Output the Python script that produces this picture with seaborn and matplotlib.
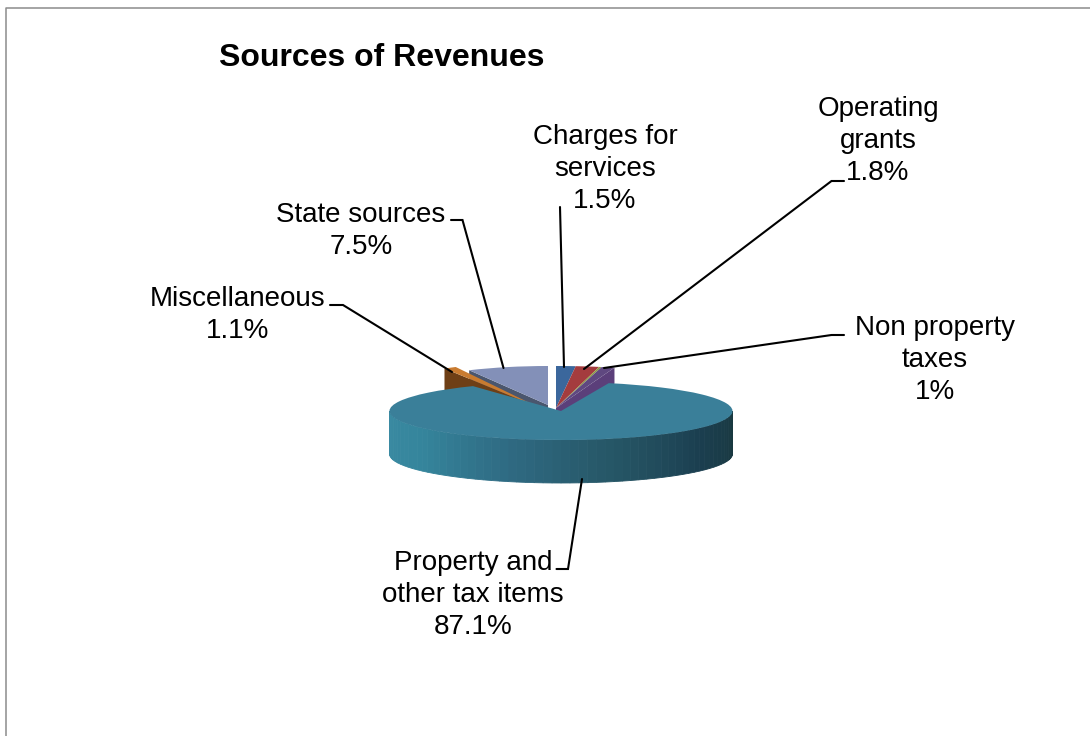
import numpy as np
import matplotlib
matplotlib.use("Agg")
import matplotlib.pyplot as plt
from matplotlib.transforms import Affine2D
import seaborn as sns

title = "Sources of Revenues"
categories = ["Charges for\nservices", "Operating\ngrants", "Other", "Non property\ntaxes",
              "Property and\nother tax items", "Miscellaneous", "State sources"]
values = [1.5, 1.8, 0.2, 1.0, 87.1, 1.1, 7.5]
value_labels = ["1.5%", "1.8%", "", "1%", "87.1%", "1.1%", "7.5%"]
top_colors = ["#3b679c", "#a43c3e", "#8c9e45", "#5f4880", "#3a7f99", "#c97b30", "#8390b8"]
wall_colors = ["#2c4c72", "#752a2b", "#66732f", "#5b3f7a", "#2f6a82", "#6e3f16", "#4a566e"]
wall_ramp = ["#3a8aa2", "#35859c", "#2f6a82", "#265666", "#1b3f50", "#19383f"]

# one pixel-like frame per wedge: centre x, centre y, x radius, y radius, wall depth
frames = [(556, 408, 210, 42, 16), (556, 408, 210, 42, 16), (556, 408, 210, 42, 16),
          (556, 408, 210, 42, 16), (561, 411, 171.5, 29, 43),
          (540, 408, 186, 46, 24), (548, 405, 174, 39, 11)]
label_pos = [(605, 169), (878, 141), None, (935, 360), (473, 595), (238, 315), (361, 231)]
leaders = [[(560, 207), (564, 367)],
           [(844, 181), (831.5, 181), (584, 369)],
           None,
           [(844, 335), (831.5, 335), (604, 368)],
           [(582, 479), (568, 569), (556.5, 569)],
           [(330, 305), (343, 305), (452, 372)],
           [(451, 220), (462.5, 220), (503.5, 368)]]

sns.set_theme(style="white")
plt.rcParams["font.family"] = ["Liberation Sans", "DejaVu Sans"]

fig = plt.figure(figsize=(10.9, 7.36), dpi=100, facecolor="white")
ax = fig.add_axes([0, 0, 1, 1])
wedges, _ = ax.pie(values, startangle=90, counterclock=False, colors=top_colors, radius=1)
ax.set_aspect("auto")
ax.set_xlim(0, 1090)
ax.set_ylim(736, 0)
ax.axis("off")

edges = np.concatenate([[0], np.cumsum(values)]) / np.sum(values) * 2 * np.pi
order = {0: 6, 1: 7, 2: 8, 3: 9, 4: 20, 5: 5, 6: 3}

def pt(frame, a):
    cx, cy, rx, ry, _ = frame
    return cx + rx * np.sin(a), cy - ry * np.cos(a)

for i, w in enumerate(wedges):
    f = frames[i]
    w.set_transform(Affine2D().scale(f[2], -f[3]).translate(f[0], f[1]) + ax.transData)
    w.set_linewidth(0)
    w.set_zorder(order[i] + 0.5)
    if i == 4:
        continue
    # cut face extruded below the wedge top
    side = edges[i + 1] if i == 3 else edges[i]
    if i in (3, 5, 6):
        x0, y0 = pt(f, side)
        ax.fill([f[0], x0, x0, f[0]], [f[1], y0, y0 + f[4], f[1] + f[4]],
                color=wall_colors[i], lw=0, zorder=order[i])

# front rim of the large wedge, shaded across its width
f = frames[4]
lo, hi = max(edges[4], np.pi / 2), min(edges[5], 3 * np.pi / 2)
steps = np.linspace(lo, hi, 61)
ramp = sns.blend_palette(wall_ramp[::-1], n_colors=60)
for k in range(60):
    a = np.linspace(steps[k], steps[k + 1], 5)
    x, y = pt(f, a)
    ax.fill(np.r_[x, x[::-1]], np.r_[y, y[::-1] + f[4]], color=ramp[k], lw=0.6,
            ec=ramp[k], zorder=19)

for cat, val, pos in zip(categories, value_labels, label_pos):
    if pos is not None:
        ax.text(pos[0], pos[1], cat + "\n" + val, ha="center", va="center", fontsize=20,
                color="black", linespacing=1.3, zorder=30)
for line in leaders:
    if line is not None:
        xs, ys = zip(*line)
        ax.plot(xs, ys, color="black", lw=1.5, zorder=31, solid_joinstyle="miter")

ax.text(219, 58, title, ha="left", va="center", fontsize=23, fontweight="bold", color="black")
ax.plot([6, 6, 1090], [736, 7.5, 7.5], color="#8c8c8c", lw=1.1, zorder=1, clip_on=False)

fig.savefig("out.png", dpi=100, facecolor="white")
